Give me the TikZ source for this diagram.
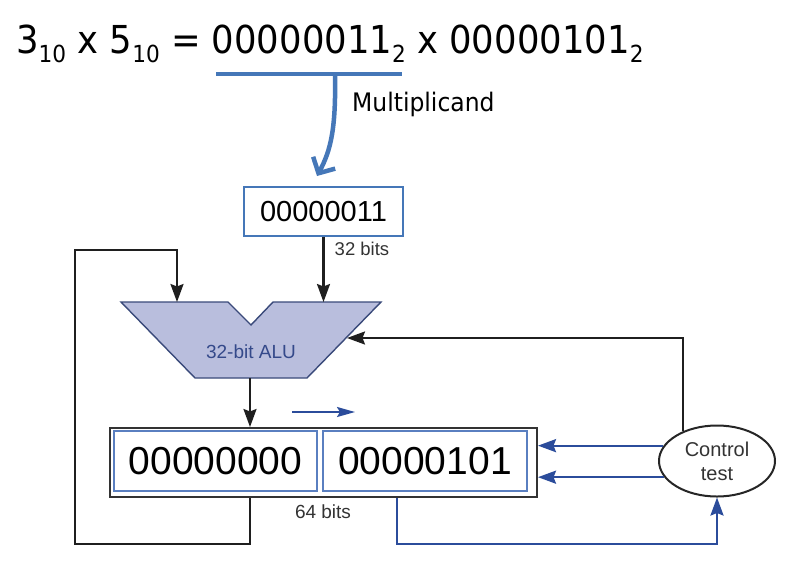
\documentclass[tikz,border=0pt]{standalone}
\usepackage{fontspec}
\setmainfont{Liberation Sans}
\newfontfamily\tahoma[FakeStretch=0.92]{DejaVu Sans}
\usetikzlibrary{arrows.meta,shapes.geometric}
\definecolor{mblue}{HTML}{4577B8}
\definecolor{dblue}{HTML}{2B4C9B}
\definecolor{alufill}{HTML}{B9BEDD}
\definecolor{alutext}{HTML}{34498A}
\definecolor{alustroke}{HTML}{3A4A7A}
\definecolor{regblue}{HTML}{5A7FC0}
\newcommand\subnum[1]{\raisebox{-9pt}{\fontsize{23.5}{23.5}\selectfont #1}}
\begin{document}
\begin{tikzpicture}[x=1pt,y=-1pt,
  blk/.style={draw=black!88, line width=2.2pt},
  tip/.style={-{Stealth[length=18pt,width=13pt,inset=2.5pt]}},
  blkarrow/.style={blk, tip},
  bluarrow/.style={draw=dblue, line width=2.3pt, tip},
  lbl/.style={inner sep=0pt, text=black!80},
]
\fill[white] (0,0) rectangle (796,566);
\useasboundingbox (0,0) rectangle (796,566);

% title
\node[anchor=base west, inner sep=0pt] (title) at (16,53)
  {\tahoma\fontsize{38.5}{38.5}\selectfont 3\subnum{10} x 5\subnum{10} = 00000011\subnum{2} x 00000101\subnum{2}};

% bracket and curved arrow
\coordinate (bl) at (216,74);
\coordinate (br) at (402,74);
\coordinate (bm) at (335,74);
\coordinate (btip) at (317,176);
\draw[mblue, line width=4pt] (bl) -- (br);
\draw[mblue, line width=4.5pt, -{Straight Barb[length=12pt,width=25pt]}]
  (bm) .. controls (336,128) and (331,150) .. (btip);
\node[anchor=base west, inner sep=0pt] (mlbl) at (352,111)
  {\tahoma\fontsize{25.5}{25.5}\selectfont Multiplicand};

% multiplicand box
\node[draw=mblue, line width=1.8pt, minimum width=159pt, minimum height=49pt, inner sep=0pt,
  font=\fontsize{29}{29}\selectfont] (mc) at (323.5,211.5) {00000011};
\node[lbl, font=\fontsize{18.5}{18.5}\selectfont] (l32) at (362,249) {32 bits};

% ALU
\coordinate (a1) at (121,302);
\coordinate (a2) at (228,302);
\coordinate (a3) at (251,325);
\coordinate (a4) at (273,302);
\coordinate (a5) at (381,302);
\coordinate (a6) at (307,378);
\coordinate (a7) at (195,378);
\draw[draw=alustroke, fill=alufill, line width=1.4pt] (a1) -- (a2) -- (a3) -- (a4) -- (a5) -- (a6) -- (a7) -- cycle;
\node[inner sep=0pt, text=alutext, font=\fontsize{19}{19}\selectfont] (alu) at (251,352) {32-bit ALU};
\coordinate (aluinA) at (177,302);
\coordinate (aluinB) at (323.5,302);
\coordinate (aluR) at (347,338);
\coordinate (aluout) at (250,378);

% register
\node[draw=black!80, line width=2pt, minimum width=427pt, minimum height=69pt, inner sep=0pt] (reg) at (323.5,462.5) {};
\node[draw=regblue, line width=1.4pt, minimum width=203pt, minimum height=60pt, inner sep=0pt,
  font=\fontsize{39}{39}\selectfont] (hi) at (215.5,461) {00000000};
\node[draw=regblue, line width=1.4pt, minimum width=204pt, minimum height=60pt, inner sep=0pt,
  font=\fontsize{39}{39}\selectfont] (lo) at (425,461) {00000101};
\node[lbl, font=\fontsize{19}{19}\selectfont] (l64) at (323,512) {64 bits};

% shift arrow
\coordinate (sa) at (292,412);
\coordinate (sb) at (355,412);
\draw[draw=dblue, line width=2pt, -{Stealth[length=18pt,width=10pt,inset=3pt]}] (sa) -- (sb);

% control
\node[draw=black!85, ellipse, line width=2pt, minimum width=116pt, minimum height=71pt, inner sep=0pt,
  align=center, font=\fontsize{20}{24}\selectfont, text=black!80] (ctl) at (717,461) {Control\\test};

% connectors
\draw[blkarrow] (mc.south) -- (aluinB);
\draw[blkarrow] (aluout) -- (aluout |- reg.north);
\coordinate (lb) at (75,544);
\coordinate (lt) at (75,250);
\draw[blkarrow] (reg.south -| aluout) -- (aluout |- lb) -- (lb) -- (lt) -| (aluinA);
\draw[blkarrow] (ctl.139.5) |- (aluR);
\draw[bluarrow] (ctl.164) -- (ctl.164 -| reg.east);
\draw[bluarrow] (ctl.197) -- (ctl.197 -| reg.east);
\coordinate (bb) at (397,544);
\draw[bluarrow] (reg.south -| bb) -- (bb) -| (ctl.south);
\end{tikzpicture}
\end{document}
